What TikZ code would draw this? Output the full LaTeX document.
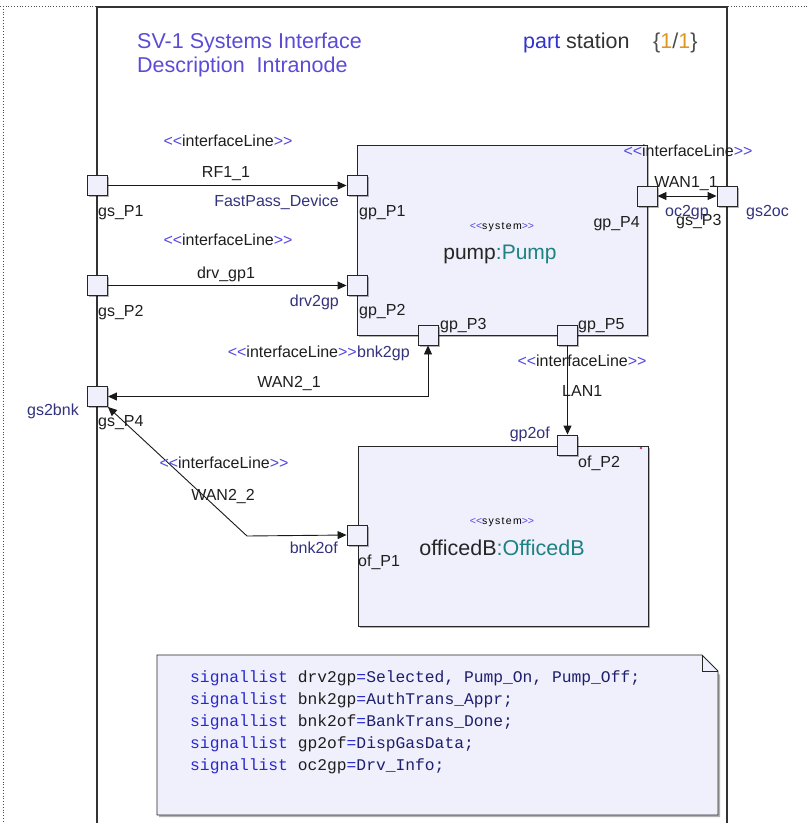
\documentclass[tikz,border=0pt]{standalone}
\usepackage{fontspec}
\setmainfont{Liberation Sans}
\newfontfamily\monof{Liberation Mono}
\newfontfamily\sysf[LetterSpace=12]{Liberation Sans}
\usetikzlibrary{arrows.meta,shadows}
\definecolor{stc}{RGB}{80,70,225}
\definecolor{navy}{RGB}{50,50,125}
\definecolor{lbl}{RGB}{30,30,30}
\definecolor{boxfill}{RGB}{240,240,252}
\definecolor{tealc}{RGB}{30,130,130}
\definecolor{titlec}{RGB}{90,75,215}
\definecolor{orng}{RGB}{225,150,30}
\definecolor{partc}{RGB}{50,50,205}
\definecolor{sigblue}{RGB}{40,40,205}
\definecolor{signavy}{RGB}{30,30,110}
\newcommand\lt{\textcolor{stc}{<\kern0pt<}}
\newcommand\gt{\textcolor{stc}{>\kern0pt>}}
\newcommand\ilst{\lt interfaceLine\gt}
\newcommand\sysst{{\sysf\fontsize{10.5}{13}\selectfont\lt system\gt}}
\newcommand\sigl[2]{\textcolor{sigblue}{signallist} #1\textcolor{sigblue}{=}\textcolor{signavy}{#2}}
\begin{document}
\begin{tikzpicture}[x=1pt,y=-1pt,
  >={Triangle[length=9pt,width=8pt]},
  port/.style={draw=black!85, fill=boxfill, minimum size=20pt, inner sep=0pt, line width=0.9pt,
    drop shadow={shadow xshift=1.5pt,shadow yshift=-1.5pt,opacity=0.3,fill=black}},
  sysbox/.style={draw=black!85, fill=boxfill, line width=0.9pt, inner sep=0pt,
    drop shadow={shadow xshift=2pt,shadow yshift=-2pt,opacity=0.3,fill=black}},
  lab/.style={font=\fontsize{16}{19}\selectfont, text=lbl, inner sep=0pt},
  nav/.style={lab, text=navy},
  conn/.style={draw=black!90, line width=0.9pt},
  sig/.style={font=\monof\fontsize{16.3}{20}\selectfont, text=lbl, inner sep=0pt, anchor=base west}]
\useasboundingbox (0,0) rectangle (808,823);
% outer dotted border
\draw[black!70, dotted, line width=0.8pt] (0,6) -- (808,6);
\draw[black!70, dotted, line width=0.8pt] (3,6) -- (3,823);
% frame
\draw[black!80, line width=1.1pt] (97,823) -- (97,7) -- (727,7) -- (727,823);
\draw[black!80, line width=1.6pt] (97,7.5) -- (727,7.5);
% title
\node[font=\fontsize{21.5}{24}\selectfont, text=titlec, inner sep=0pt, anchor=base west] (t1) at (137,48) {SV-1 Systems Interface};
\node[font=\fontsize{21.5}{24}\selectfont, text=titlec, inner sep=0pt, anchor=base west] (t2) at (137,72) {Description\ \ Intranode};
\node[font=\fontsize{21.5}{24}\selectfont, text=black!80, inner sep=0pt, anchor=base west] (hd) at (523,48) {\textcolor{partc}{part} station};
\node[font=\fontsize{21.5}{24}\selectfont, text=black!70, inner sep=0pt, anchor=base west] (pg) at (653,48) {\{\textcolor{orng}{1}/\textcolor{orng}{1}\}};
% system boxes
\node[sysbox, minimum width=290pt, minimum height=190pt] (pump) at (502,240) {};
\node[sysbox, minimum width=290pt, minimum height=180pt] (office) at (503,536) {};
\fill[magenta!70!black] (641,448) circle (1.3);
\node[inner sep=0pt, anchor=base] (pst) at (502,229) {\sysst};
\node[font=\fontsize{21}{24}\selectfont, inner sep=0pt, anchor=base, text=black!85] (pnm) at (500,259) {pump\textcolor{tealc}{:Pump}};
\node[inner sep=0pt, anchor=base] (ost) at (502,524) {\sysst};
\node[font=\fontsize{21.5}{24}\selectfont, inner sep=0pt, anchor=base, text=black!85] (onm) at (502,555) {officedB\textcolor{tealc}{:OfficedB}};
% ports
\node[port] (gsP1) at (97.5,185.5) {};
\node[port] (gsP2) at (97.5,285.5) {};
\node[port] (gsP4) at (97.5,396.5) {};
\node[port] (gsP3) at (727,196) {};
\node[port] (gpP1) at (357,185.5) {};
\node[port] (gpP2) at (357,285.5) {};
\node[port] (gpP3) at (428,335) {};
\node[port] (gpP5) at (567.5,335) {};
\node[port] (gpP4) at (647,196) {};
\node[port] (ofP1) at (357,535) {};
\node[port] (ofP2) at (567.5,445) {};
% port labels
\node[lab, anchor=base west] (lgsP1) at (98,216) {gs\_P1};
\node[lab, anchor=base west] (lgsP2) at (98,316) {gs\_P2};
\node[lab, anchor=base west] (lgsP4) at (98,426) {gs\_P4};
\node[lab, anchor=base west] (lgsP3) at (676,225) {gs\_P3};
\node[lab, anchor=base west] (lgpP1) at (359,216) {gp\_P1};
\node[lab, anchor=base west] (lgpP2) at (359,315) {gp\_P2};
\node[lab, anchor=base west] (lgpP3) at (440,329) {gp\_P3};
\node[lab, anchor=base west] (lgpP5) at (578,329) {gp\_P5};
\node[lab, anchor=base east] (lgpP4) at (640,227) {gp\_P4};
\node[lab, anchor=base west] (lofP1) at (358,566) {of\_P1};
\node[lab, anchor=base west] (lofP2) at (578,467) {of\_P2};
% connectors
\draw[conn,->] (gsP1.east) -- (gpP1.west);
\draw[conn,->] (gsP2.east) -- (gpP2.west);
\draw[conn,<->] (gpP3.south) |- (gsP4.east);
\coordinate (bend) at (247,536);
\draw[conn,<->] (gsP4.south east) -- (bend) -- (ofP1.west);
\draw[conn,->] (gpP5.south) -- (ofP2.north);
\draw[conn,<->] (gpP4.east) -- (gsP3.west);
% connector labels
\node[lab, anchor=base] (s1) at (228,146) {\ilst};
\node[lab, anchor=base] (rf) at (226,177) {RF1\_1};
\node[nav, anchor=base east] (fp) at (339,206) {FastPass\_Device};
\node[lab, anchor=base] (s2) at (228,245) {\ilst};
\node[lab, anchor=base] (dg) at (226,278) {drv\_gp1};
\node[nav, anchor=base east] (d2g) at (339,306) {drv2gp};
\node[lab, anchor=base east] (s3) at (357,357) {\ilst};
\node[nav, anchor=base west] (b2g) at (357,357) {bnk2gp};
\node[lab, anchor=base] (w21) at (289,387) {WAN2\_1};
\node[nav, anchor=base east] (g2b) at (79,415) {gs2bnk};
\node[lab, anchor=base] (s4) at (224,468) {\ilst};
\node[lab, anchor=base] (w22) at (223,500) {WAN2\_2};
\node[nav, anchor=base east] (b2o) at (338,553) {bnk2of};
\node[lab, anchor=base] (s5) at (582,366) {\ilst};
\node[lab, anchor=base west] (lan) at (562,396) {LAN1};
\node[nav, anchor=base east] (g2o) at (550,438) {gp2of};
\node[lab, anchor=base] (s6) at (688,156) {\ilst};
\node[lab, anchor=base] (w11) at (686,187) {WAN1\_1};
\node[nav, anchor=base west] (o2g) at (665,216) {oc2gp};
\node[nav, anchor=base west] (g2oc) at (746,216) {gs2oc};
% note
\fill[black, opacity=0.3] (159,657) -- (702,657) -- (720,675) -- (720,817) -- (159,817) -- cycle;
\draw[black!85, fill=boxfill, line width=0.9pt] (157,655) -- (702,655) -- (718,671) -- (718,815) -- (157,815) -- cycle;
\draw[black!85, line width=0.9pt] (702,655) -- (702,671) -- (718,671);
\node[sig] (n1) at (190,682) {\sigl{drv2gp}{Selected, Pump\_On, Pump\_Off;}};
\node[sig] (n2) at (190,704) {\sigl{bnk2gp}{AuthTrans\_Appr;}};
\node[sig] (n3) at (190,726) {\sigl{bnk2of}{BankTrans\_Done;}};
\node[sig] (n4) at (190,748) {\sigl{gp2of}{DispGasData;}};
\node[sig] (n5) at (190,770) {\sigl{oc2gp}{Drv\_Info;}};
\end{tikzpicture}
\end{document}
